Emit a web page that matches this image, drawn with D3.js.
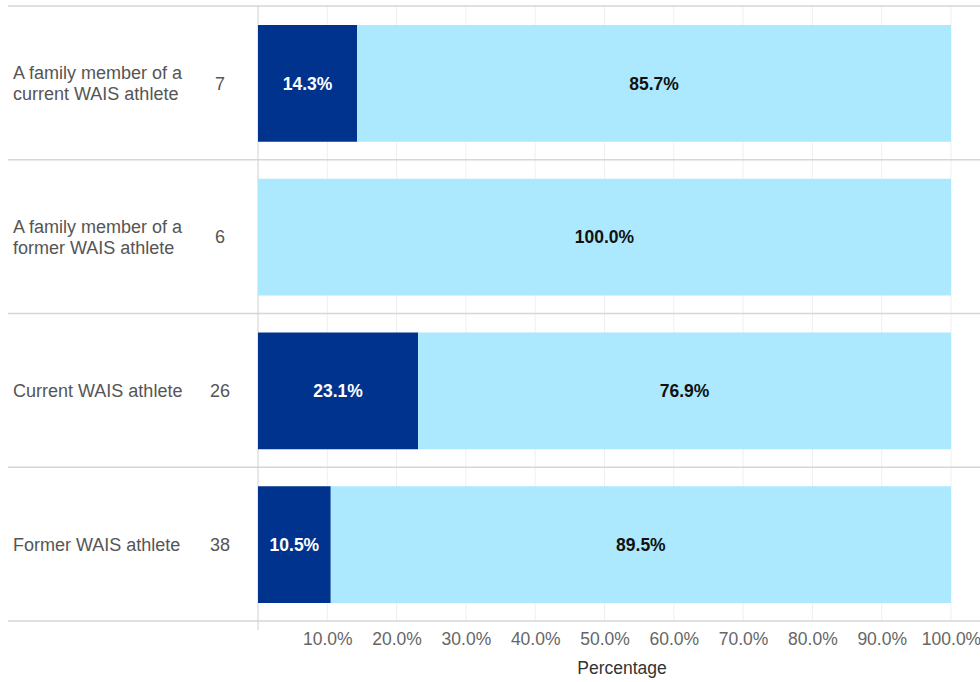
<!DOCTYPE html>
<html>
<head>
<meta charset="utf-8">
<script src="https://cdn.jsdelivr.net/npm/d3@7"></script>
<style>
  body { margin: 0; background: #fff; }
  text { font-family: "Liberation Sans", Arial, sans-serif; }
</style>
</head>
<body>
<div id="main"></div>
<script>
// row categories, respondent counts and the two stacked shares
let categories = [
    ["A family member of a", "current WAIS athlete"],
    ["A family member of a", "former WAIS athlete"],
    ["Current WAIS athlete"],
    ["Former WAIS athlete"]
]
let counts = [7, 6, 26, 38]
let darkShare = [14.3, 0, 23.1, 10.5]
let lightShare = [85.7, 100.0, 76.9, 89.5]
let ticks = [10, 20, 30, 40, 50, 60, 70, 80, 90, 100]

let width = 980
let height = 682

let svg = d3.select('#main')
            .append('svg')
            .attr('width', width)
            .attr('height', height)

let xScale = d3.scaleLinear().domain([0, 100]).range([258, 951])
let yScale = d3.scaleBand()
               .domain(d3.range(categories.length))
               .range([6, 621])
               .paddingInner(0)

let bandPad = 19
let barH = yScale.bandwidth() - 37

// vertical gridlines
svg.append('g')
    .selectAll('line')
    .data(ticks)
    .enter()
    .append('line')
    .attr('x1', (d) => xScale(d))
    .attr('x2', (d) => xScale(d))
    .attr('y1', 6)
    .attr('y2', 621)
    .style('stroke', '#efefef')
    .style('stroke-width', 1)

// row separators
svg.append('g')
    .selectAll('line')
    .data(d3.range(categories.length + 1))
    .enter()
    .append('line')
    .attr('x1', 8)
    .attr('x2', width)
    .attr('y1', (d) => d < categories.length ? yScale(d) : 621)
    .attr('y2', (d) => d < categories.length ? yScale(d) : 621)
    .style('stroke', '#d6d6d6')
    .style('stroke-width', 1.5)

// y axis line
svg.append('line')
    .attr('x1', xScale(0))
    .attr('x2', xScale(0))
    .attr('y1', 6)
    .attr('y2', 630)
    .style('stroke', '#d0d0d0')
    .style('stroke-width', 1)

let rows = svg.append('g')
    .selectAll('g')
    .data(categories)
    .enter()
    .append('g')
    .attr('transform', (d, i) => 'translate(0,' + (yScale(i) + bandPad) + ')')

rows.append('rect')
    .attr('x', xScale(0))
    .attr('width', (d, i) => xScale(darkShare[i]) - xScale(0))
    .attr('height', barH)
    .style('fill', '#00338d')

rows.append('rect')
    .attr('x', (d, i) => xScale(darkShare[i]))
    .attr('width', (d, i) => xScale(darkShare[i] + lightShare[i]) - xScale(darkShare[i]))
    .attr('height', barH)
    .style('fill', '#ace9fe')

rows.filter((d, i) => darkShare[i] > 0)
    .append('text')
    .attr('x', (d) => (xScale(0) + xScale(darkShare[categories.indexOf(d)])) / 2)
    .attr('y', barH / 2)
    .attr('dy', '.35em')
    .style('text-anchor', 'middle')
    .style('font-weight', 'bold')
    .style('font-size', '17.5px')
    .style('fill', '#fff')
    .text((d) => darkShare[categories.indexOf(d)].toFixed(1) + '%')

rows.append('text')
    .attr('x', (d, i) => (xScale(darkShare[i]) + xScale(darkShare[i] + lightShare[i])) / 2)
    .attr('y', barH / 2)
    .attr('dy', '.35em')
    .style('text-anchor', 'middle')
    .style('font-weight', 'bold')
    .style('font-size', '17.5px')
    .style('fill', '#111')
    .text((d, i) => lightShare[i].toFixed(1) + '%')

// category labels
rows.append('text')
    .attr('x', 13)
    .attr('y', (d) => barH / 2 - (d.length - 1) * 10.5)
    .style('font-size', '18px')
    .style('fill', '#555')
    .selectAll('tspan')
    .data((d) => d)
    .enter()
    .append('tspan')
    .attr('x', 13)
    .attr('dy', (d, i) => i === 0 ? '.35em' : '21px')
    .text((d) => d)

// counts
rows.append('text')
    .attr('x', 220)
    .attr('y', barH / 2)
    .attr('dy', '.35em')
    .style('text-anchor', 'middle')
    .style('font-size', '18px')
    .style('fill', '#555')
    .text((d, i) => counts[i])

// x axis tick labels
let xAxis = d3.axisBottom(xScale)
    .tickValues(ticks)
    .tickSize(0)
    .tickPadding(12)
    .tickFormat((d) => d.toFixed(1) + '%')

let axisG = svg.append('g')
    .attr('transform', 'translate(0, 621)')
    .call(xAxis)

axisG.select('.domain').remove()
axisG.selectAll('text')
    .style('font-family', '"Liberation Sans", Arial, sans-serif')
    .style('font-size', '17.5px')
    .style('fill', '#666')

svg.append('text')
    .attr('x', 622)
    .attr('y', 674)
    .style('text-anchor', 'middle')
    .style('font-size', '17.5px')
    .style('fill', '#333')
    .text('Percentage')
</script>
</body>
</html>
